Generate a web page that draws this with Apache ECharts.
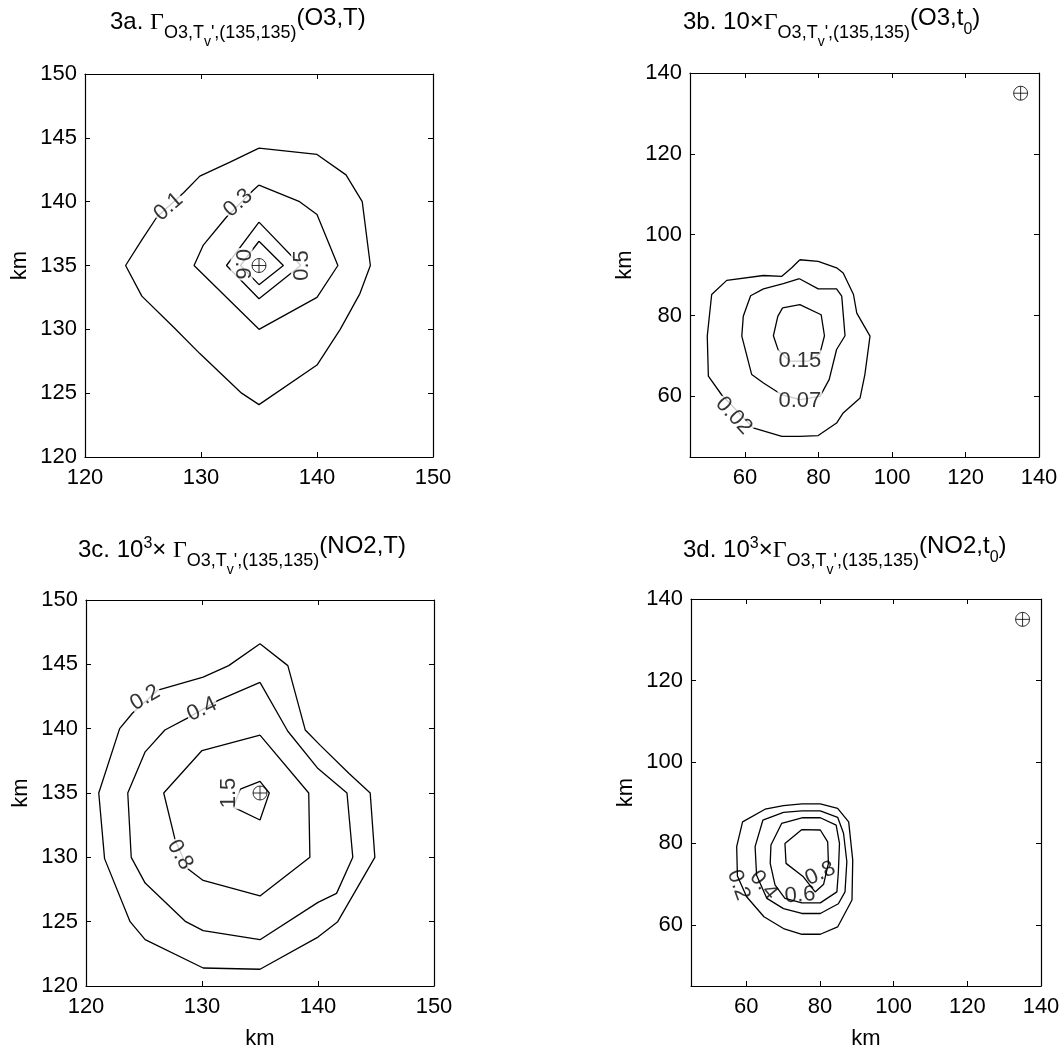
<!DOCTYPE html>
<html>
<head>
<meta charset="utf-8">
<script src="https://cdn.jsdelivr.net/npm/echarts@6/dist/echarts.min.js"></script>
<style>
  html, body { margin: 0; padding: 0; background: #fff; }
  #main { width: 1063px; height: 1053px; }
</style>
</head>
<body>
<div id="main"></div>
<script>
// contour lines, [km, km] pairs

// 3a
var a01 = [[135,144.2],[140,143.7],[142.5,142.1],[143.9,140],[144.6,135],[143.7,132.8],[142,130],[140,127.2],[135,124.1],[133.5,125],[129.9,128.1],[127.6,130.2],[124.9,132.6],[123.5,135],[124.9,137],[126.2,138.8],[128.5,140.7],[129.9,142],[132.5,143.1],[135,144.2]]
var a03 = [[135,141.3],[138.5,140],[140,139],[141.8,135],[140,132.5],[135,130],[129.4,135],[130.2,136.6],[132.2,138.8],[134.5,140.9],[135,141.3]]
var a05 = [[135,138.4],[138.6,135],[135,132.4],[132.2,135],[135,138.4]]
var a06 = [[135,136.9],[137.1,135],[135,133.5],[133.4,135],[135,136.9]]
var labelsA = [['0.1',127.2,139.6],['0.3',133.2,139.9],['0.6',133.5,135.1],['0.5',138.7,135.0]]
var anglesA = [41, 42, -90, 90]

// 3b
var b002 = [[74.9,93.8],[79.9,93.4],[84.9,91.8],[86.7,90.5],[89.5,85.2],[90.4,80.6],[94,74.9],[92.6,65.4],[91.3,59.6],[86.7,55.9],[84.9,53.4],[79.9,50.3],[74.9,50.1],[70,50.1],[62.2,52.2],[53.6,60.4],[50,65],[49.7,74.9],[50.9,85.2],[55,88.7],[65,89.9],[70,89.7],[72.7,91.8],[74.9,93.8]]
var b007 = [[74.8,89.1],[79.9,86.6],[84.9,86.6],[86.3,84.8],[87.2,75],[84.9,71.6],[82.9,64.2],[80.4,60],[75,59.2],[70,60.4],[65,63.3],[61.8,65.4],[59.1,74.9],[59.5,79.8],[61.5,84.9],[65,86.6],[70.4,87.9],[74.8,89.1]]
var b015 = [[70.2,81.9],[74.9,82.7],[80.7,80.2],[81.6,75],[80.4,70.7],[77.2,68.7],[72.2,68.7],[69,71.5],[67.7,75],[68.9,79.8],[70.2,81.9]]
var labelsB = [['0.15',74.9,68.7],['0.07',74.9,58.8],['0.02',56.9,55.2]]
var anglesB = [0, 0, -47]

// 3c
var c02 = [[135,146.6],[137.4,144.9],[138.9,139.9],[140.2,138.7],[142.7,136.5],[144.5,135],[144.9,130],[141.7,125],[140,123.8],[135,121.3],[130.1,121.4],[125.1,123.6],[123.8,125],[121.6,129.9],[121.1,135],[122.9,140],[124,141.2],[126.2,143],[130.1,144],[132.3,144.9],[135,146.6]]
var c04 = [[135,143.6],[137.4,139.8],[140,136.9],[142.5,135],[143,130],[141.6,127.2],[140,126.5],[135,123.6],[130.1,124.3],[128.6,125],[125.1,128],[123.9,130],[123.6,135],[125.1,138.2],[126.8,139.9],[128.7,140.8],[131.4,142.2],[135,143.6]]
var c08 = [[135,139.5],[139.2,135],[139.3,130],[135,127],[130.1,128.2],[128.8,129.1],[127.7,131.3],[126.7,135],[130,138.3],[135,139.5]]
var c15 = [[133.3,135.3],[135,135.9],[135.8,135],[135,132.9],[132.7,133.9],[133.3,135.3]]
var labelsC = [['0.2',125.1,142.4],['0.4',130.0,141.5],['0.8',128.1,130.2],['1.5',132.3,135.0]]
var anglesC = [30, 25, -60, 90]

// 3d
var d02 = [[75.1,89.7],[80.1,89.7],[84.8,88.6],[87.8,85.3],[88.9,75.9],[88.7,66.1],[84.8,59.5],[80.1,57.7],[75.1,57.7],[70.1,59.1],[64.8,62],[60.1,66.9],[57.6,72],[57.4,79.2],[59,85.3],[65.1,88.4],[70.1,89.3],[75.1,89.7]]
var d04 = [[75.1,88],[80.1,88],[84.8,86.4],[86.4,82.5],[87.3,75.5],[86.8,68.1],[85,65.2],[80.1,62.8],[75.1,62.8],[70.1,64],[65.6,66.5],[62.8,72.2],[62.4,79.2],[64.5,85.7],[70.1,87.6],[75.1,88]]
var d06 = [[75.1,86.3],[80.1,86.3],[84.4,84.5],[85.3,80],[85,73],[84.6,68.1],[80.1,65.4],[75.1,65.4],[70.5,66.5],[67.8,69.8],[66.5,75.1],[66.7,79.6],[69.6,84.9],[75.1,86.3]]
var d08 = [[75.1,83.4],[80.1,83.3],[82.1,80.4],[82.3,75.1],[81,70],[78.7,68.1],[75.5,71.8],[70.8,75.1],[70.5,80],[75.1,83.4]]
var labelsD = [['0.2',57.9,69.8],['0.4',64.7,69.8],['0.6',74.6,67.3],['0.8',80.1,72.6]]
var anglesD = [-70, -50, 5, 25]

// receptor point (135,135)
var receptor = [135, 135]

// axes
var rangeNear = [120, 150]
var rangeWide = [45, 140]
var ticksNearX = [120, 130, 140, 150]
var ticksNearY = [120, 125, 130, 135, 140, 145, 150]
var ticksWide = [60, 80, 100, 120, 140]

var FONT = '"Liberation Sans", Arial, sans-serif'
var SERIF = '"Liberation Serif", "DejaVu Serif", serif'

var panels = [
  { grid: {left: 85, top: 74, width: 348, height: 383}, range: rangeNear, tx: ticksNearX, ty: ticksNearY,
    lines: [a01, a03, a05, a06], labels: labelsA, angles: anglesA, bg: '#fff', xName: '' },
  { grid: {left: 690, top: 73, width: 349, height: 384}, range: rangeWide, tx: ticksWide, ty: ticksWide,
    lines: [b002, b007, b015], labels: labelsB, angles: anglesB, bg: '#fff', xName: '' },
  { grid: {left: 86, top: 600, width: 348, height: 386}, range: rangeNear, tx: ticksNearX, ty: ticksNearY,
    lines: [c02, c04, c08, c15], labels: labelsC, angles: anglesC, bg: '#fff', xName: 'km' },
  { grid: {left: 691, top: 599, width: 350, height: 387}, range: rangeWide, tx: ticksWide, ty: ticksWide,
    lines: [d02, d04, d06, d08], labels: labelsD, angles: anglesD, bg: 'transparent', xName: 'km' }
]

// titles: [text, baseline shift, font size, serif?]
var M = 24, S = 18, V = 14, P = 16
var titles = [
  { x: 110, y: 31, parts: [['3a. ',0,M],['\u0393',0,M,1],['O3,T',8,S],['v',16,V],["',(135,135)",8,S],['(O3,T)',-4,M]] },
  { x: 683, y: 31, parts: [['3b. 10\u00d7',0,M],['\u0393',0,M,1],['O3,T',8,S],['v',16,V],["',(135,135)",8,S],['(O3,t',-4,M],['0',4,P],[')',-4,M]] },
  { x: 78, y: 559, parts: [['3c. 10',0,M],['3',-10,P],['\u00d7 ',0,M],['\u0393',0,M,1],['O3,T',8,S],['v',16,V],["',(135,135)",8,S],['(NO2,T)',-4,M]] },
  { x: 683, y: 559, parts: [['3d. 10',0,M],['3',-10,P],['\u00d7',0,M],['\u0393',0,M,1],['O3,T',8,S],['v',16,V],["',(135,135)",8,S],['(NO2,t',-4,M],['0',4,P],[')',-4,M]] }
]

var ctx = document.createElement('canvas').getContext('2d')
function titleGraphics(t) {
  var out = []
  var x = t.x
  t.parts.forEach(function (p) {
    var font = p[2] + 'px ' + (p[3] ? SERIF : FONT)
    ctx.font = font
    out.push({
      type: 'text', x: x, y: t.y + p[1] - 0.35 * p[2], silent: true,
      style: { text: p[0], font: font, fill: '#000', align: 'left', verticalAlign: 'middle', textAlign: 'left', textVerticalAlign: 'middle' }
    })
    x += ctx.measureText(p[0]).width
  })
  return out
}

var axisLine = { show: true, onZero: false, lineStyle: { color: '#000', width: 1.2 } }
var grid = [], xAxis = [], yAxis = [], series = []

panels.forEach(function (pn, i) {
  grid.push(Object.assign({ outerBoundsMode: 'none', containLabel: false }, pn.grid))
  var labelStyle = { fontSize: 22, fontFamily: FONT, color: '#000' }
  xAxis.push({
    type: 'value', gridIndex: i, position: 'bottom', min: pn.range[0], max: pn.range[1],
    axisLine: axisLine, splitLine: { show: false },
    axisTick: { inside: true, length: 5, lineStyle: { color: '#000' }, customValues: pn.tx },
    axisLabel: Object.assign({ margin: 10, customValues: pn.tx }, labelStyle),
    name: pn.xName, nameLocation: 'middle', nameGap: 42, nameTextStyle: labelStyle
  })
  xAxis.push({
    type: 'value', gridIndex: i, position: 'top', min: pn.range[0], max: pn.range[1],
    axisLine: axisLine, splitLine: { show: false }, axisLabel: { show: false },
    axisTick: { inside: true, length: 5, lineStyle: { color: '#000' }, customValues: pn.tx }
  })
  yAxis.push({
    type: 'value', gridIndex: i, position: 'left', min: pn.range[0], max: pn.range[1],
    axisLine: axisLine, splitLine: { show: false },
    axisTick: { inside: true, length: 5, lineStyle: { color: '#000' }, customValues: pn.ty },
    axisLabel: Object.assign({ margin: 8, customValues: pn.ty }, labelStyle),
    name: 'km', nameLocation: 'middle', nameGap: 54, nameTextStyle: labelStyle
  })
  yAxis.push({
    type: 'value', gridIndex: i, position: 'right', min: pn.range[0], max: pn.range[1],
    axisLine: axisLine, splitLine: { show: false }, axisLabel: { show: false },
    axisTick: { inside: true, length: 5, lineStyle: { color: '#000' }, customValues: pn.ty }
  })

  pn.lines.forEach(function (ln) {
    series.push({
      type: 'line', xAxisIndex: 2 * i, yAxisIndex: 2 * i, data: ln,
      symbol: 'none', silent: true, z: 2,
      lineStyle: { color: '#000', width: 1.3 }
    })
  })

  series.push({
    type: 'scatter', xAxisIndex: 2 * i, yAxisIndex: 2 * i, z: 5, silent: true,
    symbolSize: 1, itemStyle: { color: 'transparent' },
    data: pn.labels.map(function (l, k) {
      return { name: l[0], value: [l[1], l[2]], label: { rotate: pn.angles[k] } }
    }),
    label: {
      show: true, position: 'inside', formatter: '{b}',
      fontSize: 22, fontFamily: FONT, color: '#000',
      backgroundColor: pn.bg, padding: [0, 1]
    }
  })

  series.push({
    type: 'scatter', xAxisIndex: 2 * i, yAxisIndex: 2 * i, z: 6, silent: true,
    symbol: 'path://M10,0A10,10,0,1,1,-10,0A10,10,0,1,1,10,0ZM-10,0L10,0M0,-10L0,10',
    symbolSize: 14,
    itemStyle: { color: 'transparent', borderColor: '#000', borderWidth: 1 },
    data: [receptor]
  })
})

var chart = echarts.init(document.getElementById('main'), null, { renderer: 'canvas' })
chart.setOption({
  animation: false,
  backgroundColor: '#fff',
  grid: grid,
  xAxis: xAxis,
  yAxis: yAxis,
  series: series,
  graphic: [].concat.apply([], titles.map(titleGraphics))
})
</script>
</body>
</html>
